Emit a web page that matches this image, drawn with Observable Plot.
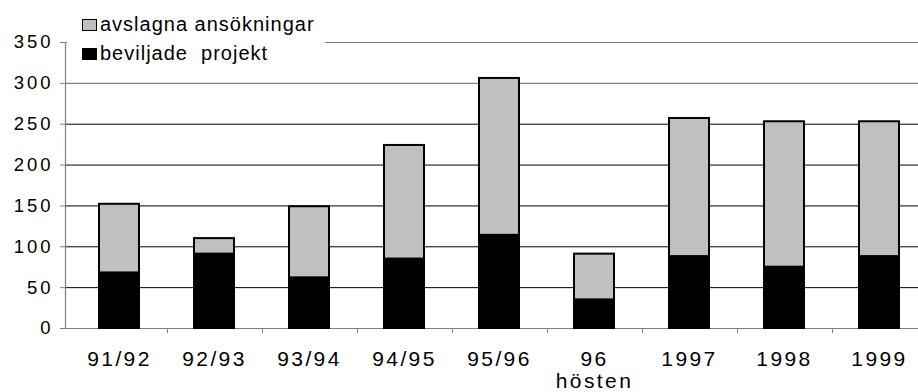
<!DOCTYPE html>
<html>
<head>
<meta charset="utf-8">
<script src="https://cdn.jsdelivr.net/npm/d3@7"></script>
<script src="https://cdn.jsdelivr.net/npm/@observablehq/plot@0.6"></script>
<style>
  body { margin: 0; background: #fff; }
  #chart { position: relative; width: 918px; height: 392px; overflow: hidden;
           font-family: "Liberation Sans", Arial, sans-serif; }
  #chart svg { display: block; }
  #chart g[aria-label="y-axis tick label"] { letter-spacing: 3px; }
  #chart g[aria-label="x-axis tick label"] { letter-spacing: 2.4px; }
  #legend { position: absolute; left: 67px; top: 8px; width: 258px; height: 62px;
            background: #fff; color: #000; font-size: 20px; letter-spacing: 1px; }
  #legend .sw { position: absolute; left: 15px; width: 15px; height: 12px; box-sizing: border-box;
                border: 1.5px solid #000; }
  #legend .lab { position: absolute; left: 33px; line-height: 20px; white-space: pre; }
</style>
</head>
<body>
<div id="chart"></div>
<script>
// Ansökningsomgångar
const categories = ["91/92", "92/93", "93/94", "94/95", "95/96", "96", "1997", "1998", "1999"];
const xTickLabels = ["91/92", "92/93", "93/94", "94/95", "95/96", "96\nhösten", "1997", "1998", "1999"];

// Beviljade projekt och avslagna ansökningar per omgång
const beviljade = [68, 91, 62, 85, 114, 35, 88, 75, 88];
const avslagna  = [84, 19, 87, 139, 192, 56, 169, 178, 165];

const seriesNames = ["beviljade projekt", "avslagna ansökningar"];
const seriesColors = ["#000000", "#c0c0c0"];
const legendLabels = ["avslagna ansökningar", "beviljade  projekt"];

const yTicks = [0, 50, 100, 150, 200, 250, 300, 350];

const rows = categories.flatMap((c, i) => [
  {cat: c, series: seriesNames[0], value: beviljade[i]},
  {cat: c, series: seriesNames[1], value: avslagna[i]}
]);

// Small ticks on the category axis, between neighbouring groups
function boundaryTicks(...args) {
  const scales = args.find(a => a && typeof a.x === "function");
  const dims = args.find(a => a && typeof a.marginBottom === "number");
  const x = scales.x;
  const bw = x.bandwidth();
  const step = x(categories[1]) - x(categories[0]);
  const y0 = dims.height - dims.marginBottom;
  const g = d3.create("svg:g").attr("stroke", "#808080").attr("stroke-width", 1);
  categories.forEach(c => {
    const bx = Math.round(x(c) + bw / 2 + step / 2) + 0.5;
    g.append("line").attr("x1", bx).attr("x2", bx).attr("y1", y0).attr("y2", y0 + 5);
  });
  return g.node();
}

const plot = Plot.plot({
  width: 918,
  height: 392,
  marginLeft: 65,
  marginRight: 0,
  marginTop: 42,
  marginBottom: 64,
  style: {fontFamily: "'Liberation Sans', Arial, sans-serif", background: "#fff", color: "#000"},
  x: {type: "band", domain: categories, range: [67.6, 929.6], paddingInner: 0.58, paddingOuter: 0.29},
  y: {domain: [0, 350]},
  color: {domain: seriesNames, range: seriesColors},
  marks: [
    Plot.ruleY(yTicks.filter(v => v > 0 && v < 300), {stroke: "#000", strokeWidth: 1}),
    Plot.ruleY(yTicks.filter(v => v >= 300), {stroke: "#808080", strokeWidth: 1.2}),
    Plot.frame({anchor: "left", stroke: "#808080", strokeWidth: 1.2}),
    Plot.ruleY([0], {stroke: "#808080", strokeWidth: 1.2}),
    Plot.barY(rows, {x: "cat", y: "value", fill: "series", order: seriesNames,
                     stroke: "#000", strokeWidth: 2}),
    Plot.axisY(yTicks, {anchor: "left", tickSize: 5, tickPadding: 7, stroke: "#808080",
                        fill: "#000", fontSize: 18.5, label: null}),
    Plot.axisX({anchor: "bottom", tickSize: 0, tickPadding: 22, fill: "#000", fontSize: 21,
                lineHeight: 1.05, label: null,
                tickFormat: d => xTickLabels[categories.indexOf(d)]}),
    boundaryTicks
  ]
});

const chart = document.getElementById("chart");
chart.appendChild(plot);

// Legend box over the top of the plot area
const legend = document.createElement("div");
legend.id = "legend";
const legendTops = [{sw: 11, lab: 6}, {sw: 40, lab: 35.4}];
legendLabels.forEach((name, i) => {
  const sw = document.createElement("div");
  sw.className = "sw";
  sw.style.top = legendTops[i].sw + "px";
  sw.style.background = i === 0 ? seriesColors[1] : seriesColors[0];
  const lab = document.createElement("div");
  lab.className = "lab";
  lab.style.top = legendTops[i].lab + "px";
  lab.textContent = name;
  legend.appendChild(sw);
  legend.appendChild(lab);
});
chart.appendChild(legend);
</script>
</body>
</html>
